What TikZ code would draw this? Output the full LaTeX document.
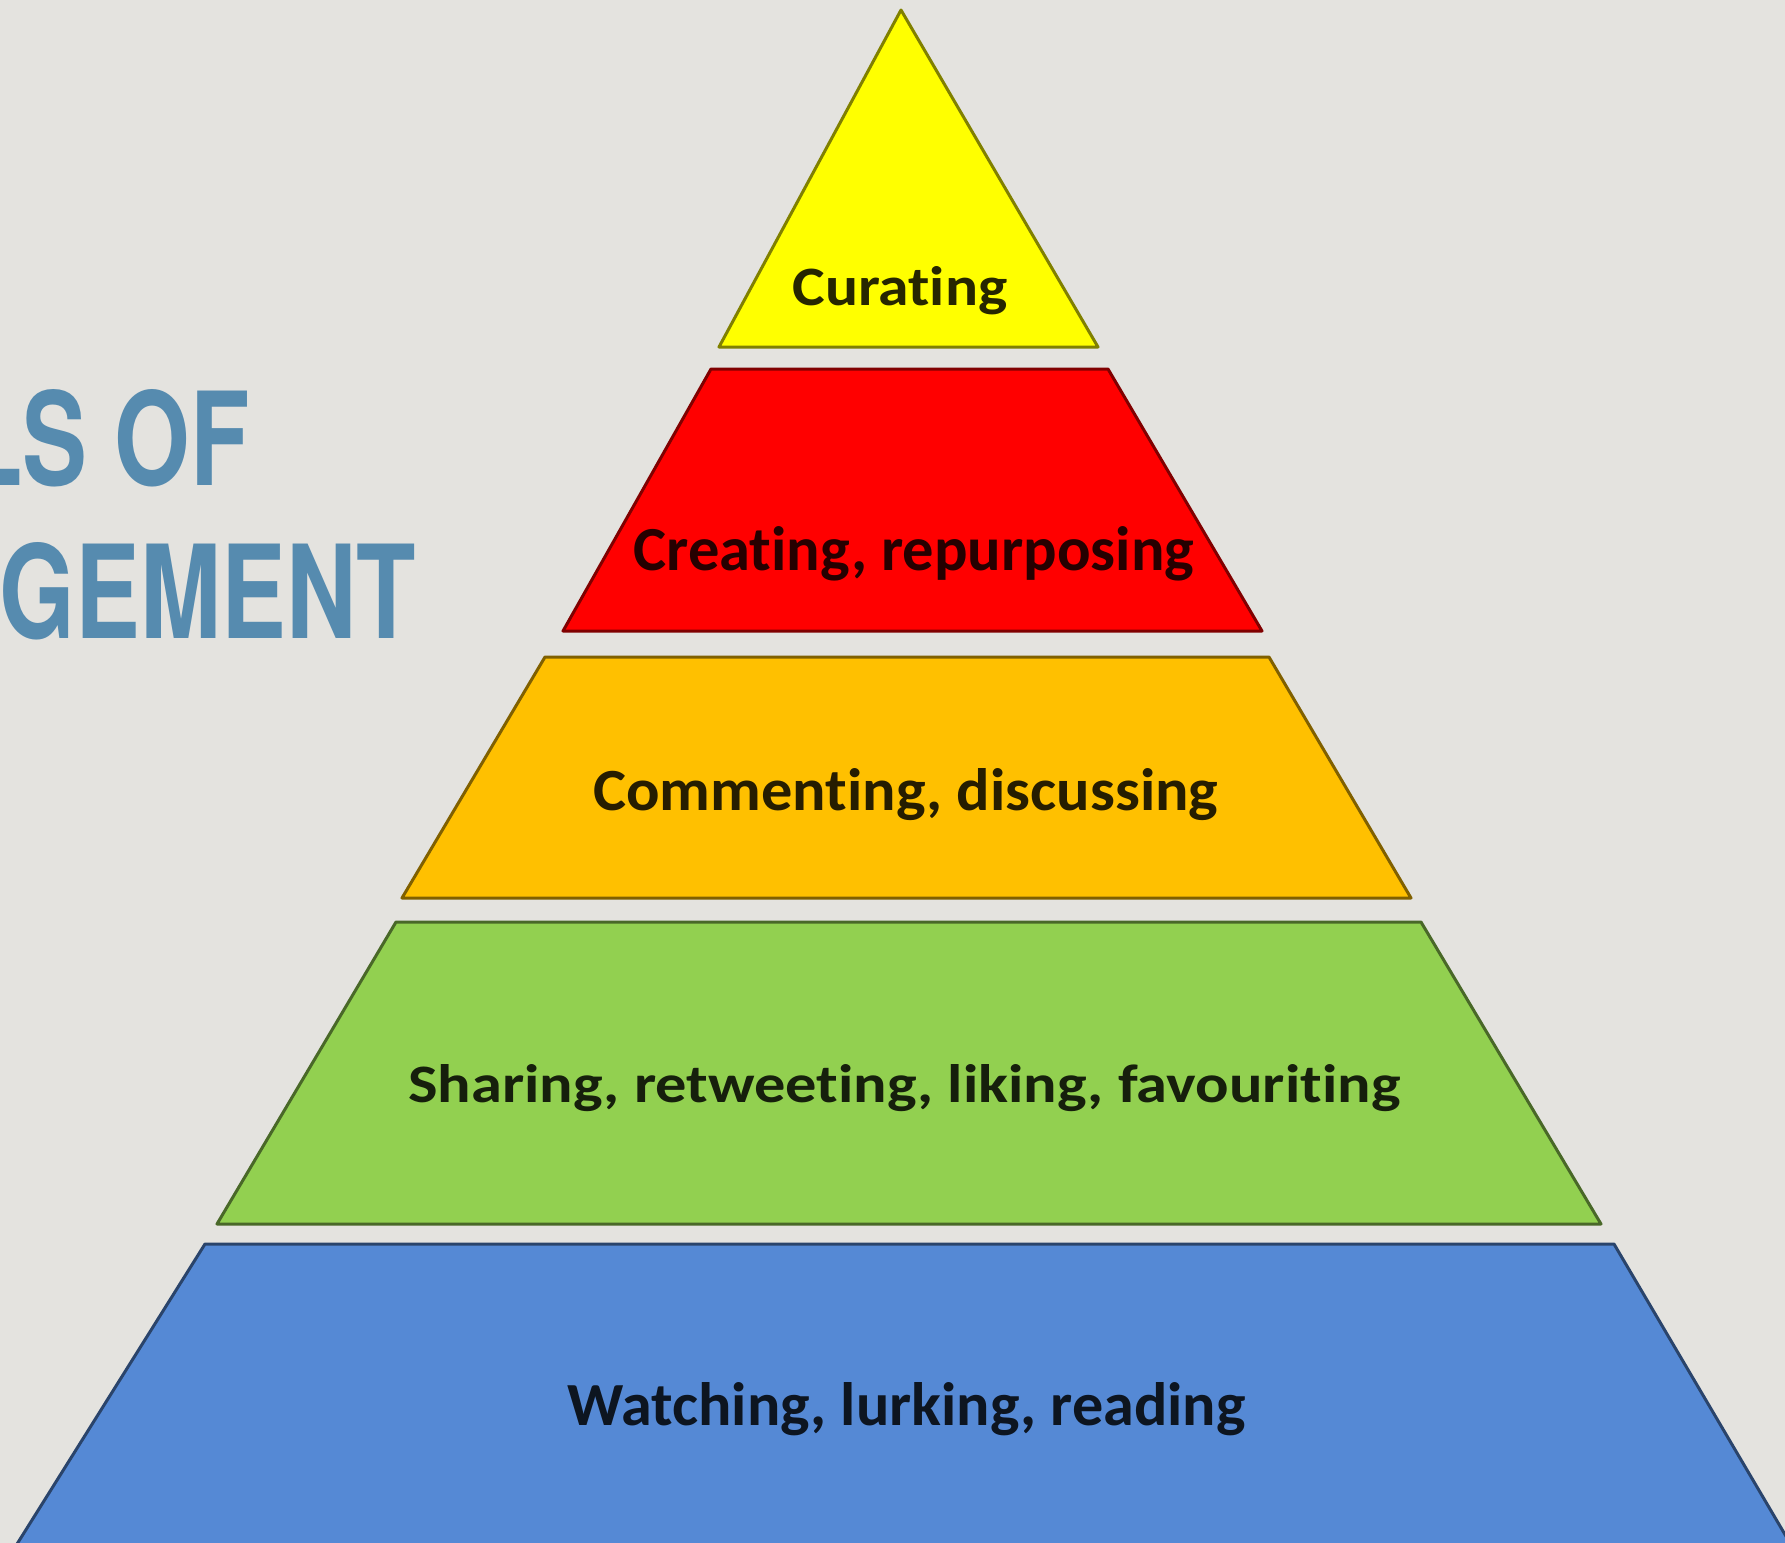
\documentclass[tikz,border=0pt]{standalone}
\usepackage{fontspec}
\usepackage{graphicx}
\newfontfamily\layerfont{Carlito}[Ligatures=NoCommon]
\newfontfamily\titlefont{TeX Gyre Heros}
\definecolor{bgc}{HTML}{E4E3DF}
\definecolor{titleblue}{HTML}{568BAF}
\definecolor{lyellow}{HTML}{FFFF00}
\definecolor{lred}{HTML}{FF0000}
\definecolor{lorange}{HTML}{FFC000}
\definecolor{lgreen}{HTML}{92D050}
\definecolor{lblue}{HTML}{5589D5}
\tikzset{
  layer/.style={fill=#1, draw=#1!50!black, line width=1.5pt, line join=round},
  ltext/.style={anchor=base west, inner sep=0pt, text=black!85!#1},
  ttext/.style={anchor=base east, inner sep=0pt, text=titleblue}
}
\newcommand{\ttl}[1]{\scalebox{0.75}[1]{\titlefont\bfseries\fontsize{64.8pt}{70pt}\selectfont #1}}
\newcommand{\lyr}[1]{\layerfont\bfseries #1}
\begin{document}
\begin{tikzpicture}[x=0.5pt,y=-0.5pt]
\useasboundingbox (0,0) rectangle (1785,1543);
\clip (0,0) rectangle (1785,1543);
\fill[bgc] (0,0) rectangle (1785,1543);
% title
\node[ttext] (t1) at (250,485) {\ttl{LS OF}};
\node[ttext] (t2) at (416,638) {\ttl{GEMENT}};
% layers
\draw[layer=lyellow] (901,10) -- (1098,347) -- (719,347) -- cycle;
\draw[layer=lred] (711,369) -- (1108,369) -- (1262,631) -- (563,631) -- cycle;
\draw[layer=lorange] (545,657) -- (1269,657) -- (1411,898) -- (402,898) -- cycle;
\draw[layer=lgreen] (396,922) -- (1421,922) -- (1601,1224) -- (217,1224) -- cycle;
\draw[layer=lblue] (205,1244) -- (1614,1244) -- (1800,1560) -- (7,1560) -- cycle;
% texts
\node[ltext=lyellow] (l5) at (792,305) {\resizebox{107.5pt}{19.5pt}{\lyr{Curating}}};
\node[ltext=lred] (l4) at (633,570) {\resizebox{280.5pt}{22pt}{\lyr{Creating, repurposing}}};
\node[ltext=lorange] (l3) at (593,810) {\resizebox{312.5pt}{21pt}{\lyr{Commenting, discussing}}};
\node[ltext=lgreen] (l2) at (408,1102) {\resizebox{496pt}{19pt}{\lyr{Sharing, retweeting, liking, favouriting}}};
\node[ltext=lblue] (l1) at (567,1425) {\resizebox{339pt}{21.5pt}{\lyr{Watching, lurking, reading}}};
\end{tikzpicture}
\end{document}
